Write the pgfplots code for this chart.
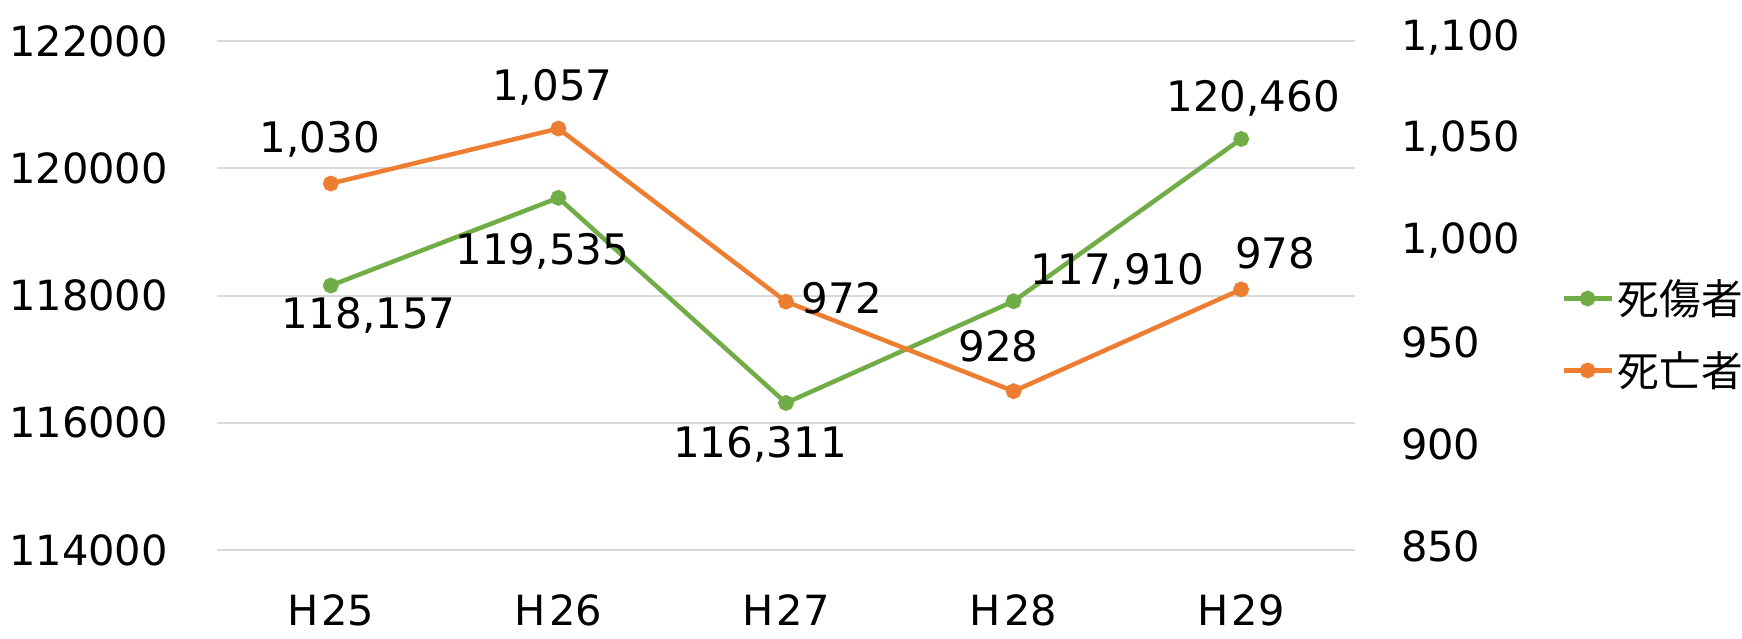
\documentclass[border=0pt]{standalone}
\usepackage{fontspec}
\setmainfont{DejaVu Sans}
\newfontfamily\jp{Noto Sans CJK JP}
\usepackage{pgfplots}
\pgfplotsset{compat=1.18}
\usepackage{pgfplotstable}
\definecolor{cgreen}{HTML}{70AD47}
\definecolor{corange}{HTML}{ED7D31}
\definecolor{cgrid}{HTML}{D9D9D9}

\pgfplotstableread{
x y lab dx dy
0 118157 118,157 19 -15
1 119535 119,535 -8 -27
2 116311 116,311 -13 -20.5
3 117910 117,910 52 15
4 120460 120,460 6 20.5
}\greentab

\pgfplotstableread{
x y lab dx dy
0 1030 1,030 -5.5 22
1 1057 1,057 -3 20.5
2 972 972 28 1.7
3 928 928 -7.5 22.5
4 978 978 17 18
}\orangetab

\pgfplotsset{
  base/.style={
    scale only axis, width=569pt, height=254.5pt,
    xmin=-0.5, xmax=4.5, xtick={0,...,4},
    font=\fontsize{20.8}{25}\selectfont,
    axis line style={draw=none},
    major tick length=0pt,
    scaled y ticks=false,
    /pgf/number format/assume math mode=true,
    /pgf/number format/fixed,
    /pgf/number format/precision=0,
    tick label style={font=\fontsize{20.8}{25}\selectfont},
  },
  lab/.style={
    nodes near coords, point meta=explicit symbolic,
    visualization depends on={\thisrow{dx}\as\dx},
    visualization depends on={\thisrow{dy}\as\dy},
    every node near coord/.append style={anchor=center, xshift=\dx pt, yshift=\dy pt, text=black, font=\fontsize{21}{25}\selectfont},
  },
}

\begin{document}
\begin{tikzpicture}
\useasboundingbox (-108.5pt,-44pt) rectangle (762.5pt,275pt);
\begin{axis}[base,
  ymin=114000, ymax=122000,
  ytick={114000,116000,118000,120000,122000},
  ymajorgrids, grid style={cgrid, line width=1pt},
  yticklabel style={xshift=-21pt, /pgf/number format/1000 sep={}},
  xticklabels={H\hspace{1.5pt}25,H\hspace{1.5pt}26,H\hspace{1.5pt}27,H\hspace{1.5pt}28,H\hspace{1.5pt}29},
  xticklabel style={yshift=-21pt, inner sep=1pt},
]
\addplot[cgreen, line width=2.25pt, mark=*, mark size=2.8pt, lab] table[x=x, y=y, meta=lab] {\greentab};
\end{axis}
\begin{axis}[base,
  ymin=850, ymax=1100,
  ytick={850,900,950,1000,1050,1100},
  axis y line*=right, hide x axis,
  yticklabel style={xshift=19.5pt, yshift=2pt, /pgf/number format/1000 sep={,}},
  legend style={at={(1.181,0.4234)}, anchor=west, draw=none, fill=none,
    font=\jp\fontsize{20.8}{25}\selectfont, row sep=13pt, inner sep=0pt},
  legend cell align=left,
  legend image code/.code={\draw[mark repeat=2, mark phase=2] plot coordinates {(0pt,0pt) (12pt,0pt) (24pt,0pt)};},
]
\addlegendimage{cgreen, line width=2.25pt, mark=*, mark size=2.8pt}
\addlegendentry{死傷者}
\addplot[corange, line width=2.25pt, mark=*, mark size=2.8pt, lab] table[x=x, y=y, meta=lab] {\orangetab};
\addlegendentry{死亡者}
\end{axis}
\end{tikzpicture}
\end{document}
